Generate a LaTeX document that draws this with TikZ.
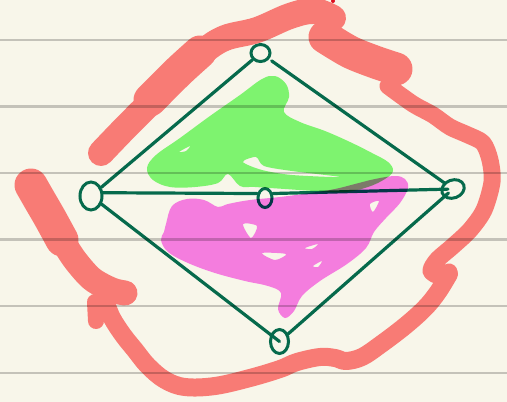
\documentclass[tikz,border=0pt]{standalone}
\usepackage{tikz}
\usetikzlibrary{shapes.geometric}
\definecolor{skpaper}{HTML}{F8F6EA}
\definecolor{skrule}{HTML}{CACACA}
\definecolor{skink}{HTML}{066A4C}
\definecolor{skgreen}{HTML}{82FC7A}
\definecolor{skpink}{HTML}{FB82F2}
\definecolor{skred}{HTML}{F87B75}
\definecolor{skdot}{HTML}{DD1020}

\tikzset{
  vtx/.style={draw=skink,line width=3pt,ellipse,inner sep=0pt},
  link/.style={draw=skink,line width=3.2pt,line cap=round},
  redpen/.style={draw=skred,line width=#1,line cap=round,line join=round},
  blob/.style={blend mode=multiply,even odd rule},
  ruling/.style={draw=skrule,line width=2.2pt,blend mode=multiply}
}

\begin{document}
\begin{tikzpicture}[x=1pt,y=-1pt]
\fill[skpaper] (0,0) rectangle (507,402);
\useasboundingbox (0,0) rectangle (507,402);

% the five vertices
\node[vtx,minimum width=19pt,minimum height=17pt] (top) at (260.5,53) {};
\node[vtx,minimum width=22pt,minimum height=28pt] (left) at (91,196) {};
\node[vtx,minimum width=14pt,minimum height=19pt] (mid) at (265,198) {};
\node[vtx,minimum width=23pt,minimum height=18pt,rotate=20] (right) at (453,189) {};
\node[vtx,minimum width=18pt,minimum height=24pt] (bot) at (279.5,341.5) {};

% edges
\draw[link] (top) -- (left);
\draw[link,shorten <=3pt] (top) -- (right);
\draw[link] (left.15) -- (mid.150);
\draw[link,shorten >=5pt] (mid.30) -- (right.center);
\draw[link] (left) -- (bot.center);
\draw[link,shorten >=6pt] (bot) -- (right.center);

% green patch, upper half
\fill[skgreen,blob]
  plot[smooth cycle,tension=.6] coordinates {(262,79) (275,76) (286,84) (289,97)
    (284,112) (300,122) (325,131) (350,142) (372,153) (388,162) (393,171)
    (385,179) (368,187) (345,192) (315,191) (285,189) (255,187) (240,186)
    (228,174) (218,183) (195,187) (170,187) (153,180) (147,168) (156,155)
    (180,138) (210,116) (240,95)}
  plot[smooth cycle,tension=.5] coordinates {(243,162) (256,157) (264,166)
    (292,171) (340,177) (292,175) (262,170)}
  plot[smooth cycle,tension=.5] coordinates {(179,152) (190,146) (186,151)};

% pink patch, lower half
\fill[skpink,blob]
  plot[smooth cycle,tension=.6] coordinates {(166,224) (172,206) (187,199)
    (204,200) (218,207) (228,204) (250,200) (280,197) (310,193) (335,189)
    (355,184) (375,179) (395,176) (405,179) (408,188) (400,203) (386,218)
    (374,232) (366,248) (347,264) (320,281) (302,296) (294,311) (285,318)
    (278,309) (281,293) (268,286) (245,281) (215,273) (188,263) (168,252)
    (161,240) (164,232)}
  plot[smooth cycle,tension=.5] coordinates {(243,224) (257,226) (251,238)}
  plot[smooth cycle,tension=.5] coordinates {(262,253) (286,254) (275,260)}
  plot[smooth cycle,tension=.5] coordinates {(370,204) (379,201) (373,212)}
  plot[smooth cycle,tension=.5] coordinates {(305,248) (318,244) (312,249)}
  plot[smooth cycle,tension=.5] coordinates {(313,266) (322,261) (318,267)};

% red loop round the whole thing
\draw[redpen=26pt] plot[smooth,tension=.6] coordinates {(101,153) (125,128)
  (152,101) (180,74) (203,52) (225,38) (257,30) (290,16) (314,11) (333,18)};
\draw[redpen=33pt] plot[smooth] coordinates {(150,100) (178,72) (200,52)};
\draw[redpen=33pt] plot[smooth] coordinates {(325,37) (350,52) (375,62) (396,69)};
\draw[redpen=17pt] plot[smooth,tension=.5] coordinates {(388,86) (413,104)
  (433,115) (450,127) (468,135) (483,143) (490,160) (492,182) (484,210)
  (470,230) (453,246) (437,260) (431,271) (440,276) (449,272)};
\draw[redpen=18pt] plot[smooth,tension=.6] coordinates {(449,274) (438,292)
  (425,308) (405,326) (380,345) (362,357) (346,361) (335,358) (320,357)
  (297,362) (280,369) (250,378) (215,386) (185,387) (165,380) (148,366)
  (135,350) (123,335) (112,318) (106,303)};
\draw[redpen=33pt] plot[smooth] coordinates {(31,185) (39,199) (50,218) (62,240)};
\draw[redpen=25pt] plot[smooth] coordinates {(62,240) (75,260) (92,279)
  (112,290) (125,293)};
\draw[redpen=16pt] (95,302) -- (96,321);
\fill[skdot] (333,1) circle (2pt);

% paper rulings
\foreach \y in {40,106.5,173,239.5,306,373}
  \draw[ruling] (0,\y) -- (507,\y);
\end{tikzpicture}
\end{document}
